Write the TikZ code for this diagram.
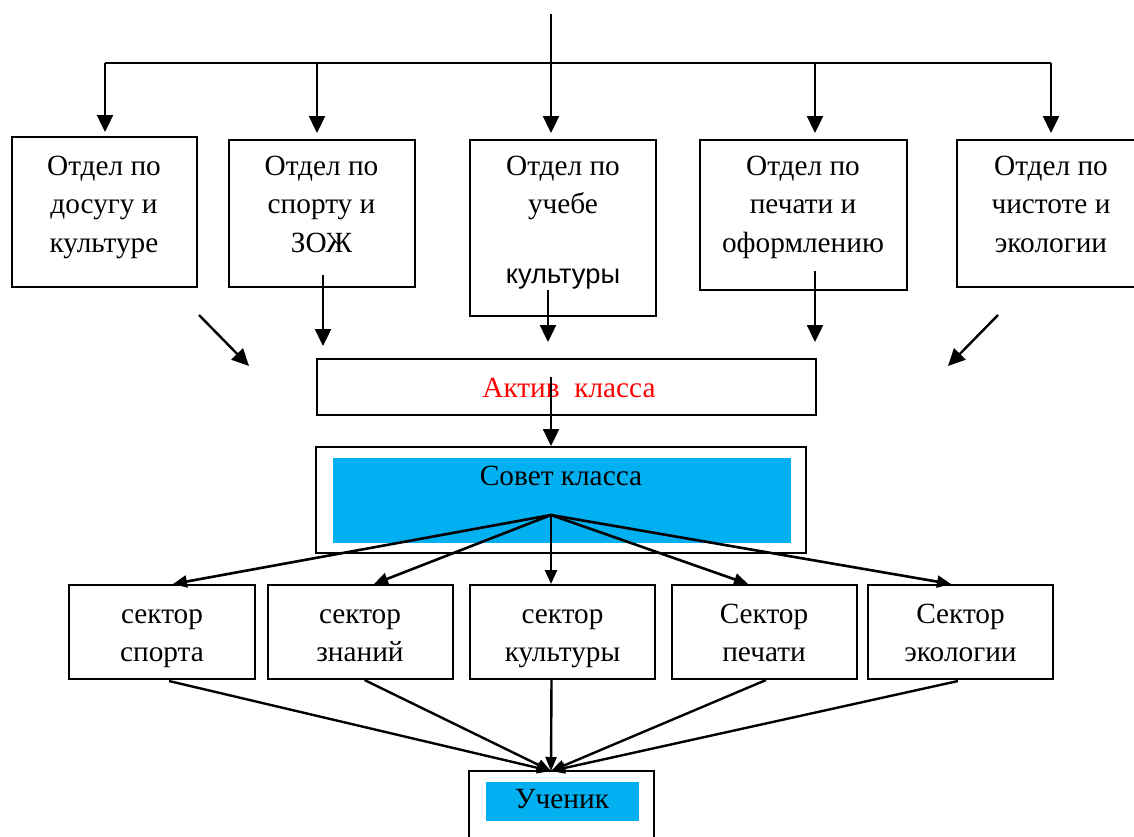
\documentclass[tikz,border=0pt]{standalone}
\usepackage{fontspec}
\setmainfont{Liberation Serif}
\newfontfamily\arialfont{Liberation Sans}
\usetikzlibrary{arrows.meta}
\definecolor{cy}{HTML}{00B0F0}
\definecolor{rd}{HTML}{FF0000}
\newcommand\mylines[4]{%
  \foreach \s [count=\i] in {#4}
    \node[txt,anchor=base] (#1-\i) at (#2,{#3+(\i-1)*38.5}) {\s};}
\begin{document}
\begin{tikzpicture}[x=1pt,y=-1pt,
  box/.style={draw,line width=2pt,inner sep=0pt},
  fillbox/.style={fill=cy,draw=none,inner sep=0pt},
  txt/.style={font=\fontsize{29.3}{38.5}\selectfont,inner sep=0pt},
  ln/.style={line width=2.4pt},
  arr/.style={line width=2.4pt,-{Triangle[length=17pt,width=16pt]}},
  farr/.style={line width=2.6pt,-{Triangle[length=14pt,width=12pt]}},
  barr/.style={line width=2.4pt,-{Triangle[length=14pt,width=11pt]}},
]
\useasboundingbox (0,0) rectangle (1134,836);
\clip (0,0) rectangle (1134,836);

% top boxes
\node[box,minimum width=185.5pt,minimum height=150pt] (b1) at (104.25,212) {};
\node[box,minimum width=185.5pt,minimum height=147pt] (b2) at (321.75,213.5) {};
\node[box,minimum width=185.5pt,minimum height=175.5pt] (b3) at (562.75,227.75) {};
\node[box,minimum width=207pt,minimum height=150pt] (b4) at (803.5,215) {};
\node[box,minimum width=188pt,minimum height=147pt] (b5) at (1051,213.5) {};

\mylines{tb1}{104}{175}{Отдел по,досугу и,культуре}
\mylines{tb2}{321.5}{175}{Отдел по,спорту и,ЗОЖ}
\mylines{tb3}{563}{175}{Отдел по,учебе}
\node[txt,anchor=base,font=\arialfont\fontsize{27.3}{30}\selectfont] (tb3-3) at (563,283) {культуры};
\mylines{tb4}{803}{175}{Отдел по,печати и,оформлению}
\mylines{tb5}{1051}{175}{Отдел по,чистоте и,экологии}

% middle
\node[box,minimum width=499.5pt,minimum height=56pt] (aktiv) at (566.25,387) {};
\node[txt,anchor=base,text=rd] (aktivt) at (569,397) {Актив\ \ класса};
\node[box,minimum width=490pt,minimum height=106pt] (sovet) at (561,500) {};
\node[fillbox,minimum width=458pt,minimum height=85pt] (sovetin) at (562,500.5) {};
\node[txt,anchor=base] (sovett) at (561,485) {Совет класса};

% sectors
\node[box,minimum width=186pt,minimum height=94pt] (s1) at (162,632) {};
\node[box,minimum width=185.5pt,minimum height=94pt] (s2) at (360.25,632) {};
\node[box,minimum width=185pt,minimum height=94pt] (s3) at (562.5,632) {};
\node[box,minimum width=185.5pt,minimum height=94pt] (s4) at (764.25,632) {};
\node[box,minimum width=185pt,minimum height=94pt] (s5) at (960.5,632) {};
\mylines{ts1}{162}{623}{сектор,спорта}
\mylines{ts2}{360}{623}{сектор,знаний}
\mylines{ts3}{562.5}{623}{сектор,культуры}
\mylines{ts4}{764}{623}{Сектор,печати}
\mylines{ts5}{960.5}{623}{Сектор,экологии}

% pupil
\node[box,minimum width=185pt,minimum height=89pt] (uch) at (561.5,815.5) {};
\node[fillbox,minimum width=153pt,minimum height=39pt] (uchin) at (562.5,801.5) {};
\node[txt,anchor=base] (ucht) at (562,808) {Ученик};

% connectors top
\coordinate (top) at (551,14);
\coordinate (br) at (551,63);
\coordinate (c1) at (105,63);
\coordinate (c2) at (317,63);
\coordinate (c4) at (815,63);
\coordinate (c5) at (1051,63);
\draw[ln] (top) -- (br);
\draw[ln] (c1) -- (c5);
\draw[arr,shorten >=4pt] (c1) -- (c1 |- b1.north);
\draw[arr,shorten >=6pt] (c2) -- (c2 |- b2.north);
\draw[arr,shorten >=6pt] (br) -- (br |- b3.north);
\draw[arr,shorten >=6pt] (c4) -- (c4 |- b4.north);
\draw[arr,shorten >=6pt] (c5) -- (c5 |- b5.north);

% arrows toward Aktiv
\coordinate (d1s) at (199,315); \coordinate (d1e) at (249,366);
\coordinate (d2s) at (323,275); \coordinate (d2e) at (323,346);
\coordinate (d3s) at (548,290); \coordinate (d3e) at (548,342);
\coordinate (d4s) at (815,271); \coordinate (d4e) at (815,342);
\coordinate (d5s) at (998,315); \coordinate (d5e) at (948,366);
\foreach \k in {1,...,5} \draw[arr] (d\k s) -- (d\k e);

% aktiv -> sovet
\coordinate (as) at (551,377);
\draw[arr] (as) -- (as |- sovet.north);

% fan to sectors
\coordinate (fo) at (551,515);
\coordinate (t1) at (173,584);
\coordinate (t2) at (374,584);
\coordinate (t3) at (551,584);
\coordinate (t4) at (748,584);
\coordinate (t5) at (951,584);
\foreach \k in {1,...,5} \draw[farr] (fo) -- (t\k);

% sectors to pupil
\coordinate (u1) at (169,681);
\coordinate (u2) at (364.5,680);
\coordinate (u3) at (551.5,679);
\coordinate (u4) at (766,680);
\coordinate (u5) at (958,681);
\coordinate (ue) at (551,771);
\foreach \k in {1,...,5} \draw[barr] (u\k) -- (ue);
\end{tikzpicture}
\end{document}
